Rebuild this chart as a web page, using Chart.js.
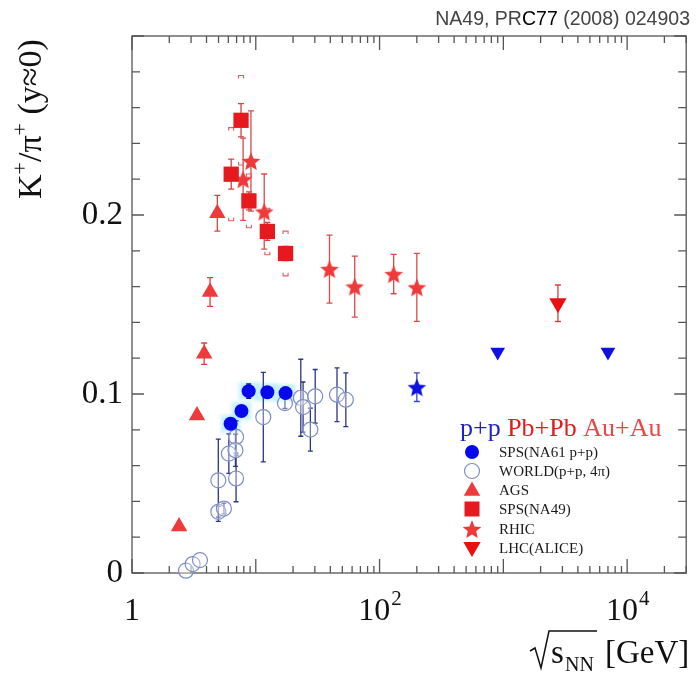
<!DOCTYPE html>
<html>
<head>
<meta charset="utf-8">
<script src="https://cdn.jsdelivr.net/npm/chart.js@4.4.0/dist/chart.umd.min.js"></script>
<style>
  html, body { margin: 0; padding: 0; background: #fff; }
  canvas { display: block; }
</style>
</head>
<body>
<canvas id="c" width="697" height="683"></canvas>
<script>
// K+/pi+ ratio at mid-rapidity versus centre-of-mass energy per nucleon pair

// --- NA61 p+p (filled blue circles)
const na61Energy = [6.26, 7.66, 8.76, 12.4, 17.4];
const na61Ratio  = [0.0834, 0.0905, 0.1016, 0.101, 0.1005];
const na61Err    = [0.003, 0.003, 0.004, 0.003, 0.003];
const na61Sys    = [0.005, 0.005, 0.005, 0.005, 0.005];

// --- world p+p data, 4pi (open circles)
const worldEnergy = [2.73, 3.09, 3.54, 4.98, 4.98, 5.53, 6.06, 6.93, 6.85, 6.93, 11.5, 17.2, 23.1, 24.1, 30.2, 27.6, 45.3, 53.4];
const worldRatio  = [0.0013, 0.005, 0.0072, 0.0518, 0.0342, 0.036, 0.0667, 0.076, 0.0686, 0.0528, 0.0871, 0.0949, 0.0979, 0.0927, 0.0987, 0.0801, 0.0996, 0.0968];
const worldErr    = [0, 0, 0, 0.023, 0.003, 0.003, 0.011, 0.009, 0.009, 0.013, 0.025, 0.003, 0.0215, 0.014, 0.015, 0.012, 0.015, 0.015];

// --- p+p at RHIC (blue star) and LHC (blue down triangles)
const ppRhicEnergy = [200];
const ppRhicRatio  = [0.1038];
const ppRhicErr    = [0.008];
const ppLhcEnergy  = [900, 7000];
const ppLhcRatio   = [0.1234, 0.1234];

// --- Au+Au at AGS (triangles)
const agsEnergy = [2.4, 3.35, 3.83, 4.27, 4.89];
const agsRatio  = [0.026, 0.088, 0.1225, 0.157, 0.201];
const agsErr    = [0, 0, 0.006, 0.008, 0.01];

// --- Pb+Pb NA49 (squares)
const na49Energy = [6.33, 7.6, 8.8, 12.4, 17.4];
const na49Ratio  = [0.2228, 0.2529, 0.2079, 0.1908, 0.1785];
const na49Err    = [0.0084, 0.0093, 0.005, 0.005, 0.004];
const na49Sys    = [0.026, 0.025, 0.015, 0.013, 0.0125];

// --- Au+Au at RHIC (stars)
const rhicEnergy = [7.9, 9.14, 11.7, 39.4, 63, 130, 200];
const rhicRatio  = [0.220, 0.2302, 0.2019, 0.1698, 0.160, 0.167, 0.1596];
const rhicErr    = [0.023, 0.028, 0.021, 0.019, 0.017, 0.011, 0.019];

// --- Pb+Pb ALICE (down triangle)
const aliceEnergy = [2760];
const aliceRatio  = [0.1507];
const aliceErr    = [0.0102];

// --- axes
const xRange = [1, 30000];
const yRange = [0, 0.3];
const yTickValues = [0, 0.1, 0.2];
const yTickLabels = ['0', '0.1', '0.2'];
const xTickValues = [1, 100, 10000];
const xTickBase   = ['1', '10', '10'];
const xTickExp    = ['', '2', '4'];

const legendHeader = [['p+p', '#1f1fd0'], ['Pb+Pb', '#e01c1c'], ['Au+Au', '#ee4646']];
const legendLabels = ['SPS(NA61 p+p)', 'WORLD(p+p, 4\u03c0)', 'AGS', 'SPS(NA49)', 'RHIC', 'LHC(ALICE)'];

const SERIF = '"Liberation Serif", "DejaVu Serif", serif';
const RED = '#e8191e';
const RED_STAR = '#ee3a3a';
const BLUE = '#0808ee';
const OPEN_BLUE = '#7d8fc4';

const pts = (xs, ys) => xs.map((x, i) => ({ x: x, y: ys[i] }));

function makeStar(r, fill) {
  const s = Math.ceil(r * 2 + 2);
  const c = document.createElement('canvas');
  c.width = s; c.height = s;
  const g = c.getContext('2d');
  g.beginPath();
  for (let i = 0; i < 10; i++) {
    const rad = i % 2 ? r * 0.45 : r;
    const a = -Math.PI / 2 + i * Math.PI / 5;
    g.lineTo(s / 2 + rad * Math.cos(a), s / 2 + 1 + rad * Math.sin(a));
  }
  g.closePath();
  g.fillStyle = fill;
  g.fill();
  return c;
}
const redStar = makeStar(9.8, RED_STAR);
const blueStar = makeStar(9.8, '#1010e0');

// error bars drawn beneath the markers
const errorSets = [
  { E: worldEnergy, R: worldRatio, err: worldErr, color: '#2a3584', cap: 2.5 },
  { E: na61Energy, R: na61Ratio, err: na61Err, color: '#1a1a40', cap: 2.5 },
  { E: ppRhicEnergy, R: ppRhicRatio, err: ppRhicErr, color: '#3a48c8', cap: 3 },
  { E: agsEnergy, R: agsRatio, err: agsErr, color: '#d84040', cap: 3 },
  { E: na49Energy, R: na49Ratio, err: na49Err, color: '#d84040', cap: 3 },
  { E: rhicEnergy, R: rhicRatio, err: rhicErr, color: '#dc4a4a', cap: 3 },
  { E: aliceEnergy, R: aliceRatio, err: aliceErr, color: '#d84040', cap: 3 }
];

const underlayPlugin = {
  id: 'underlay',
  beforeDatasetsDraw(chart) {
    const { ctx, chartArea: a, scales: { x, y } } = chart;
    ctx.save();
    // frame
    ctx.strokeStyle = '#555';
    ctx.lineWidth = 1.3;
    ctx.strokeRect(a.left, a.top, a.right - a.left, a.bottom - a.top);
    // inward ticks on all four sides
    ctx.beginPath();
    for (let d = 1; d <= xRange[1]; d *= 10) {
      for (let m = 1; m <= 9; m++) {
        const v = d * m;
        if (v < xRange[0] || v > xRange[1]) continue;
        const px = x.getPixelForValue(v);
        const len = m === 1 ? 14 : 7;
        ctx.moveTo(px, a.bottom); ctx.lineTo(px, a.bottom - len);
        ctx.moveTo(px, a.top); ctx.lineTo(px, a.top + len);
      }
    }
    for (let k = 0; k <= 15; k++) {
      const v = k * 0.02;
      const py = y.getPixelForValue(v);
      const len = k % 5 === 0 ? 12 : 8;
      ctx.moveTo(a.left, py); ctx.lineTo(a.left + len, py);
      ctx.moveTo(a.right, py); ctx.lineTo(a.right - len, py);
    }
    ctx.stroke();

    // systematic bands for NA61 points (soft glow)
    ctx.fillStyle = 'rgba(150,228,255,0.5)';
    ctx.filter = 'blur(1.5px)';
    na61Energy.forEach((e, i) => {
      const px = x.getPixelForValue(e);
      const y1 = y.getPixelForValue(na61Ratio[i] + na61Sys[i]);
      const y2 = y.getPixelForValue(na61Ratio[i] - na61Sys[i]);
      ctx.fillRect(px - 10, y1, 20, y2 - y1);
    });
    ctx.filter = 'none';

    // statistical error bars
    errorSets.forEach(s => {
      ctx.strokeStyle = s.color;
      ctx.lineWidth = 1.3;
      ctx.beginPath();
      s.E.forEach((e, i) => {
        if (!s.err[i]) return;
        const px = x.getPixelForValue(e);
        const y1 = y.getPixelForValue(s.R[i] + s.err[i]);
        const y2 = y.getPixelForValue(s.R[i] - s.err[i]);
        ctx.moveTo(px, y1); ctx.lineTo(px, y2);
        ctx.moveTo(px - s.cap, y1); ctx.lineTo(px + s.cap, y1);
        ctx.moveTo(px - s.cap, y2); ctx.lineTo(px + s.cap, y2);
      });
      ctx.stroke();
    });

    // systematic brackets for NA49
    ctx.strokeStyle = '#e06060';
    ctx.lineWidth = 1.1;
    ctx.beginPath();
    na49Energy.forEach((e, i) => {
      const px = x.getPixelForValue(e);
      const yt = y.getPixelForValue(na49Ratio[i] + na49Sys[i]);
      const yb = y.getPixelForValue(na49Ratio[i] - na49Sys[i]);
      ctx.moveTo(px - 2.5, yt + 3); ctx.lineTo(px - 2.5, yt); ctx.lineTo(px + 2.5, yt); ctx.lineTo(px + 2.5, yt + 3);
      ctx.moveTo(px - 2.5, yb - 3); ctx.lineTo(px - 2.5, yb); ctx.lineTo(px + 2.5, yb); ctx.lineTo(px + 2.5, yb - 3);
    });
    ctx.stroke();
    ctx.restore();
  }
};

function drawTri(ctx, cx, cy, r, down) {
  const s = down ? -1 : 1;
  ctx.beginPath();
  ctx.moveTo(cx, cy - s * r);
  ctx.lineTo(cx + r * 0.866, cy + s * r * 0.5);
  ctx.lineTo(cx - r * 0.866, cy + s * r * 0.5);
  ctx.closePath();
  ctx.fill();
}

const overlayPlugin = {
  id: 'overlay',
  afterDraw(chart) {
    const { ctx, scales: { x } } = chart;
    ctx.save();
    ctx.fillStyle = '#111';
    ctx.textBaseline = 'alphabetic';

    // x tick labels with exponents
    xTickValues.forEach((v, i) => {
      const px = x.getPixelForValue(v);
      ctx.font = '32px ' + SERIF;
      const wb = ctx.measureText(xTickBase[i]).width;
      ctx.font = '21px ' + SERIF;
      const we = xTickExp[i] ? ctx.measureText(xTickExp[i]).width : 0;
      const left = px - (wb + we) / 2;
      ctx.font = '32px ' + SERIF;
      ctx.textAlign = 'left';
      ctx.fillText(xTickBase[i], left, 620);
      if (xTickExp[i]) {
        ctx.font = '21px ' + SERIF;
        ctx.fillText(xTickExp[i], left + wb + 1, 605);
      }
    });

    // x axis title: sqrt(s_NN) [GeV]
    ctx.textAlign = 'left';
    ctx.font = '33px ' + SERIF;
    ctx.fillText('s', 551, 663);
    ctx.font = '20px ' + SERIF;
    ctx.fillText('NN', 565, 671);
    ctx.font = '33px ' + SERIF;
    ctx.fillText('[GeV]', 605, 663);
    ctx.strokeStyle = '#111';
    ctx.lineWidth = 1.5;
    ctx.beginPath();
    ctx.moveTo(530, 651); ctx.lineTo(535, 648); ctx.lineTo(541, 668); ctx.lineTo(549, 631); ctx.lineTo(597, 631);
    ctx.stroke();

    // y axis title: K+/pi+ (y~0)
    ctx.translate(41, 199);
    ctx.rotate(-Math.PI / 2);
    let cx = 0;
    const part = (t, size, dy) => {
      ctx.font = size + 'px ' + SERIF;
      ctx.fillText(t, cx, dy);
      cx += ctx.measureText(t).width;
    };
    part('K', 34, 0);
    part('+', 22, -14);
    part('/\u03c0', 34, 0);
    part('+', 22, -14);
    part(' (y\u22480)', 34, 0);
    ctx.setTransform(1, 0, 0, 1, 0, 0);

    // top-right reference
    ctx.font = '19.5px "Liberation Sans", Arimo, sans-serif';
    ctx.textAlign = 'left';
    const t1 = 'NA49, PR', t2 = 'C77', t3 = ' (2008) 024903';
    const w = ctx.measureText(t1 + t2 + t3).width;
    let tx = 690 - w;
    ctx.fillStyle = '#444';
    ctx.fillText(t1, tx, 25); tx += ctx.measureText(t1).width;
    ctx.fillStyle = '#000';
    ctx.fillText(t2, tx, 25); tx += ctx.measureText(t2).width;
    ctx.fillStyle = '#444';
    ctx.fillText(t3, tx, 25);

    // legend header
    ctx.font = '26px ' + SERIF;
    let hx = 460;
    legendHeader.forEach(([t, c]) => {
      ctx.fillStyle = c;
      ctx.fillText(t, hx, 436);
      hx += ctx.measureText(t + ' ').width;
    });

    // legend entries
    const rowsY = [452, 471, 490, 509, 529, 548];
    const mx = 472;
    ctx.fillStyle = BLUE;
    ctx.beginPath(); ctx.arc(mx, rowsY[0], 7, 0, Math.PI * 2); ctx.fill();
    ctx.strokeStyle = OPEN_BLUE; ctx.lineWidth = 1.2;
    ctx.beginPath(); ctx.arc(mx, rowsY[1], 7.5, 0, Math.PI * 2); ctx.stroke();
    ctx.fillStyle = RED_STAR;
    drawTri(ctx, mx, rowsY[2] + 1, 9.5, false);
    ctx.fillStyle = RED;
    ctx.fillRect(mx - 7.5, rowsY[3] - 7.5, 15, 15);
    ctx.drawImage(redStar, mx - redStar.width / 2, rowsY[4] - redStar.height / 2);
    ctx.fillStyle = '#e81010';
    drawTri(ctx, mx, rowsY[5] - 1, 10, true);

    ctx.font = '15px ' + SERIF;
    ctx.fillStyle = '#1a1a1a';
    ctx.textBaseline = 'middle';
    legendLabels.forEach((t, i) => ctx.fillText(t, 499, rowsY[i] + 1));
    ctx.restore();
  }
};

new Chart(document.getElementById('c'), {
  type: 'scatter',
  data: {
    datasets: [
      { label: 'SPS(NA61 p+p)', data: pts(na61Energy, na61Ratio), pointStyle: 'circle', pointRadius: 7,
        backgroundColor: BLUE, borderColor: BLUE, borderWidth: 0, clip: false },
      { label: 'p+p RHIC', data: pts(ppRhicEnergy, ppRhicRatio), pointStyle: blueStar, clip: false },
      { label: 'p+p LHC', data: pts(ppLhcEnergy, ppLhcRatio), pointStyle: 'triangle', rotation: 180, pointRadius: 8.5,
        backgroundColor: '#1010e0', borderWidth: 0, clip: false },
      { label: 'SPS(NA49)', data: pts(na49Energy, na49Ratio), pointStyle: 'rect', pointRadius: 10.8,
        backgroundColor: RED, borderWidth: 0, clip: false },
      { label: 'RHIC', data: pts(rhicEnergy, rhicRatio), pointStyle: redStar, clip: false },
      { label: 'AGS', data: pts(agsEnergy, agsRatio), pointStyle: 'triangle', pointRadius: 9.5,
        backgroundColor: RED_STAR, borderWidth: 0, clip: false },
      { label: 'LHC(ALICE)', data: pts(aliceEnergy, aliceRatio), pointStyle: 'triangle', rotation: 180, pointRadius: 10,
        backgroundColor: '#e81010', borderWidth: 0, clip: false },
      { label: 'WORLD(p+p, 4\u03c0)', data: pts(worldEnergy, worldRatio), pointStyle: 'circle', pointRadius: 7.5,
        backgroundColor: 'rgba(255,255,255,0.35)', borderColor: OPEN_BLUE, borderWidth: 1.2, clip: false }
    ]
  },
  options: {
    responsive: false,
    devicePixelRatio: 1,
    animation: false,
    layout: { padding: { top: 36, right: 4, left: 0, bottom: 0 } },
    plugins: { legend: { display: false }, tooltip: { enabled: false } },
    elements: { point: { hoverRadius: 0 } },
    scales: {
      x: {
        type: 'logarithmic', min: xRange[0], max: xRange[1],
        ticks: { display: false },
        grid: { display: false, drawTicks: false },
        border: { display: false },
        afterFit: s => { s.height = 110; }
      },
      y: {
        type: 'linear', min: yRange[0], max: yRange[1],
        afterBuildTicks: s => { s.ticks = yTickValues.map(v => ({ value: v })); },
        ticks: {
          font: { family: SERIF, size: 33 }, color: '#111', padding: 9,
          callback: (v, i) => yTickLabels[i]
        },
        grid: { display: false, drawTicks: false },
        border: { display: false },
        afterFit: s => { s.width = 132; }
      }
    }
  },
  plugins: [underlayPlugin, overlayPlugin]
});
</script>
</body>
</html>
